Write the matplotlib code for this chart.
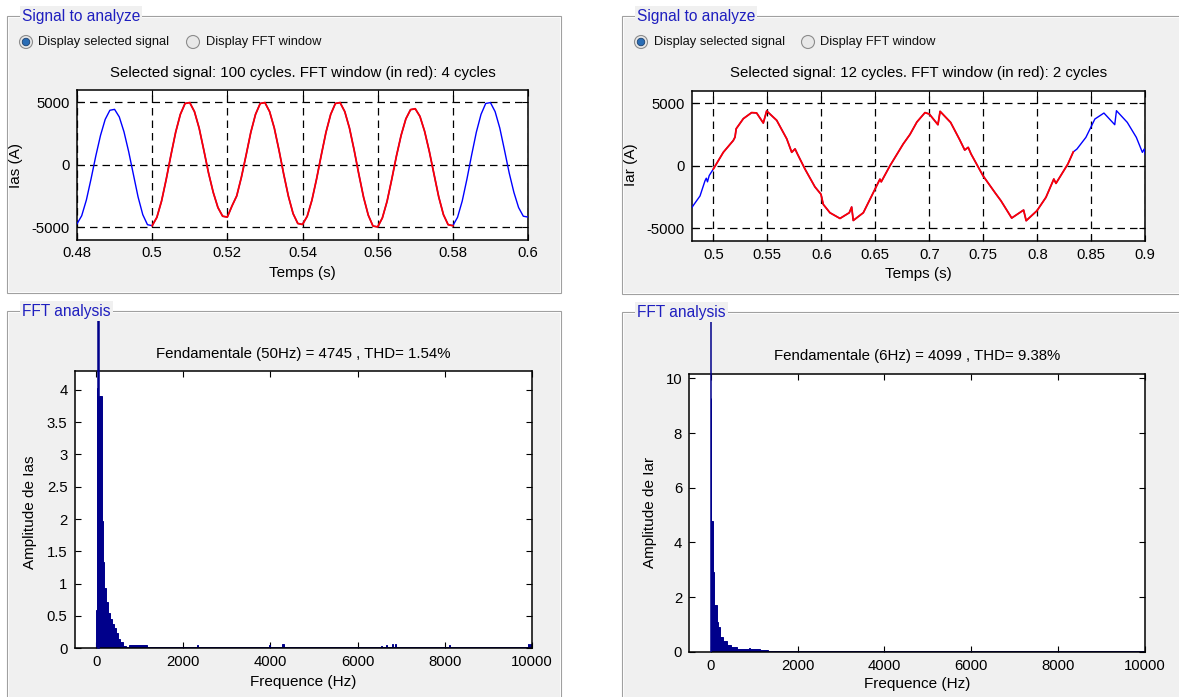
import matplotlib
matplotlib.use('Agg')
import matplotlib.pyplot as plt
import numpy as np
from matplotlib.patches import Rectangle, Ellipse
from matplotlib.transforms import Bbox, TransformedBbox

plt.rcParams['font.family'] = ['Liberation Sans', 'DejaVu Sans']

# ---- data ----
# Ias, 50 Hz, sampled every 1.25 ms from 0.48 s to 0.6 s
t_as = np.linspace(0.48, 0.6, 97)
i_as = [-4742, -4094, -2822, -1118,
        702, 2349, 3641, 4374, 4446, 3839, 2646, 1049,
        -772, -2584, -4005, -4811, -4891, -4222, -2911, -1153,
        780, 2610, 4045, 4920, 4990, 4265, 2940, 1165,
        -663, -2219, -3438, -4131, -4199, -3300, -2499, -990,
        780, 2610, 4045, 4920, 4990, 4265, 2940, 1165,
        -757, -2532, -3924, -4714, -4792, -4137, -2852, -1130,
        780, 2610, 4045, 4920, 4990, 4265, 2940, 1165,
        -780, -2610, -4045, -4920, -4990, -4265, -2940, -1165,
        710, 2375, 3681, 4423, 4495, 3881, 2675, 1060,
        -772, -2584, -4005, -4811, -4891, -4222, -2911, -1153,
        780, 2610, 4045, 4920, 4990, 4265, 2940, 1165,
        -663, -2219, -3438, -4131, -4199]
win_as = (0.50, 0.58)

# Iar, ~6 Hz with steps
t_ar = [0.480, 0.4877, 0.4923, 0.4935, 0.4946, 0.4962, 0.500, 0.5093, 0.5185, 0.5201,
        0.5212, 0.5278, 0.5355, 0.5401, 0.5463, 0.5494, 0.5587, 0.5680, 0.5726, 0.5757,
        0.5779, 0.5849, 0.5941, 0.5997, 0.6018, 0.6080, 0.6173, 0.6259, 0.6281, 0.6296,
        0.6389, 0.6466, 0.6543, 0.6555, 0.6636, 0.6759, 0.6821, 0.6885, 0.6960, 0.7000,
        0.7080, 0.7100, 0.7197, 0.7278, 0.7328, 0.7360, 0.7387, 0.7497, 0.7613, 0.7663,
        0.7763, 0.7873, 0.7897, 0.7997, 0.8080, 0.8153, 0.8173, 0.8283, 0.8333, 0.8367,
        0.8450, 0.8533, 0.8617, 0.8717, 0.8733, 0.8833, 0.8917, 0.8973, 0.8990, 0.9000]
i_ar = [-3360, -2420, -1210, -1000, -1290, -790, -270, 1075, 2016, 2285,
        2957, 3763, 4247, 4220, 3414, 4382, 3629, 2150, 1075, 1344,
        940, -270, -1694, -2285, -3091, -3763, -4220, -3763, -3306, -4382,
        -3763, -2420, -1075, -1290, 0, 1747, 2500, 3494, 4247, 4133,
        3280, 4347, 3467, 2133, 1253, 1467, 933, -800, -2213, -2800,
        -4187, -3547, -4400, -3600, -2533, -1067, -1413, 133, 1100, 1333,
        2267, 3733, 4213, 3280, 4400, 3467, 2267, 1067, 1333, 880]
win_ar = (0.50, 0.8334)

# FFT of Ias (in % of fundamental): spectrum blocks, fundamental, small lines
f_lo_as = [0, 12.5, 56, 125, 150, 175, 221, 267, 313, 359, 405, 451, 497, 543, 605, 673, 750, 1170]
f_hi_as = [12.5, 44, 125, 150, 175, 221, 267, 313, 359, 405, 451, 497, 543, 605, 673, 750, 1170, 10000]
amp_as = [0.59, 4.02, 3.9, 1.97, 1.34, 0.93, 0.72, 0.54, 0.46, 0.38, 0.31, 0.23, 0.15, 0.09, 0.04, 0.02, 0.05, 0.02]
fund_as = (50, 100)
spk_f_as = [2320, 3974, 4286, 6545, 6667, 6807, 6871, 8103, 9930, 9980]
spk_a_as = [0.05, 0.05, 0.06, 0.04, 0.05, 0.06, 0.06, 0.05, 0.06, 0.06]

# FFT of Iar
f_lo_ar = [0, 7.5, 10.5, 13.5, 45, 77, 135, 174, 210, 272, 364, 456, 594, 1146, 1330]
f_hi_ar = [4.5, 10.5, 13.5, 45, 77, 135, 174, 210, 272, 364, 456, 594, 1146, 1330, 10000]
amp_ar = [0.5, 9.3, 5.4, 4.8, 2.9, 1.7, 1.07, 0.89, 0.55, 0.4, 0.26, 0.16, 0.1, 0.07, 0.03]
fund_ar = (6, 100)
spk_f_ar = [900]
spk_a_ar = [0.15]

W, H = 1179, 697
fig = plt.figure(figsize=(W / 100, H / 100), dpi=100, facecolor='white')


def fx(x):
    return x / W


def fy(y):
    return 1 - y / H


def add_ax(l, t, r, b):
    return fig.add_axes([fx(l), fy(b), (r - l) / W, (b - t) / H])


def to_ax(box, x, y):
    l, t, r, b = box
    return (x - l) / (r - l), (b - y) / (b - t)


panel_bg = '#f0f0f0'
label_blue = '#1f1fbf'
navy = '#00008b'


def panel(l, t, r, b, title, tx):
    fig.add_artist(Rectangle((fx(l), fy(b)), (r - l) / W, (b - t) / H,
                             transform=fig.transFigure, facecolor=panel_bg,
                             edgecolor='#a0a0a0', linewidth=0.8, zorder=-2))
    fig.add_artist(Rectangle((fx(l + 1), fy(b - 1)), (r - l - 2) / W, (b - t - 2) / H,
                             transform=fig.transFigure, facecolor='none',
                             edgecolor='white', linewidth=0.6, zorder=-1))
    fig.text(fx(tx), fy(t), title, color=label_blue, fontsize=11.2, ha='left', va='center',
             bbox=dict(facecolor=panel_bg, edgecolor='none', pad=1.5), zorder=5)


def radio(cx, cy, text, on):
    r = 6.5
    fig.add_artist(Ellipse((fx(cx), fy(cy)), 2 * r / W, 2 * r / H, transform=fig.transFigure,
                           facecolor='#e8e8e8', edgecolor='#8c8c8c', linewidth=0.8, zorder=3))
    if on:
        fig.add_artist(Ellipse((fx(cx), fy(cy)), 7.5 / W, 7.5 / H, transform=fig.transFigure,
                               facecolor='#2a6db5', edgecolor='#1a3f6e', linewidth=0.6, zorder=4))
    fig.text(fx(cx + 12.5), fy(cy), text, fontsize=9.3, ha='left', va='center', color='#111111')


panel(7, 16, 561, 293, 'Signal to analyze', 22)
panel(622, 16, 1190, 294, 'Signal to analyze', 637)
panel(7, 311, 561, 710, 'FFT analysis', 22)
panel(622, 312, 1190, 710, 'FFT analysis', 637)

for x0 in (26, 641):
    radio(x0, 42, 'Display selected signal', True)
    radio(x0 + 167, 42, 'Display FFT window', False)


def style(ax):
    ax.tick_params(direction='in', top=True, right=True, length=4, width=0.8,
                   labelsize=10.7, pad=5, colors='black')
    for s in ax.spines.values():
        s.set_linewidth(1.1)


def signal_ax(box, t, i, win, xticks, xlabels):
    ax = add_ax(*box)
    t = np.asarray(t)
    i = np.asarray(i)
    ax.plot(t, i, color='#0000ff', linewidth=1.0, zorder=3)
    m = (t >= win[0] - 1e-9) & (t <= win[1])
    ax.plot(t[m], i[m], color='#ff0000', linewidth=1.3, zorder=4)
    ax.set_xlim(0.48, xticks[-1])
    ax.set_ylim(-6000, 6000)
    ax.set_xticks(xticks)
    ax.set_xticklabels(xlabels)
    ax.set_yticks([-5000, 0, 5000])
    ax.set_yticklabels(['-5000', '0', '5000'])
    ax.grid(True, color='black', linestyle=(0, (6, 4)), linewidth=0.9)
    ax.set_axisbelow(True)
    style(ax)
    return ax


def label_ax(ax, box, xl, xpos, yl, ypos, title, tpos):
    ax.set_xlabel(xl, fontsize=11, va='center')
    ax.xaxis.set_label_coords(*to_ax(box, *xpos))
    ax.set_ylabel(yl, fontsize=11, va='center')
    ax.yaxis.set_label_coords(*to_ax(box, *ypos))
    tx, ty = to_ax(box, *tpos)
    ax.set_title(title, fontsize=10.8, y=ty, pad=0, va='center')


box_tl = (77, 90, 528, 239.5)
ax1 = signal_ax(box_tl, t_as, i_as, win_as, [0.48, 0.5, 0.52, 0.54, 0.56, 0.58, 0.6],
                ['0.48', '0.5', '0.52', '0.54', '0.56', '0.58', '0.6'])
label_ax(ax1, box_tl, 'Temps (s)', (302.5, 273.3), 'Ias (A)', (16, 165),
         'Selected signal: 100 cycles. FFT window (in red): 4 cycles', (302, 72.7))

box_tr = (691.7, 90.7, 1145.3, 240.7)
ax2 = signal_ax(box_tr, t_ar, i_ar, win_ar, [0.5, 0.55, 0.6, 0.65, 0.7, 0.75, 0.8, 0.85, 0.9],
                ['0.5', '0.55', '0.6', '0.65', '0.7', '0.75', '0.8', '0.85', '0.9'])
label_ax(ax2, box_tr, 'Temps (s)', (918, 274.3), 'Iar (A)', (631, 165),
         'Selected signal: 12 cycles. FFT window (in red): 2 cycles', (917, 73))

clip_top = TransformedBbox(Bbox.from_extents(0, 0, 1, fy(321)), fig.transFigure)


def fft_ax(box, f_lo, f_hi, amp, fund, spk_f, spk_a, ytop, yticks, ylabels):
    ax = add_ax(*box)
    ax.bar(f_lo, amp, width=np.subtract(f_hi, f_lo), align='edge',
           color=navy, edgecolor=navy, linewidth=0.7, zorder=2)
    ax.bar(spk_f, spk_a, width=30, color=navy, edgecolor=navy, linewidth=0.7, zorder=2)
    fb = ax.bar([fund[0]], [fund[1]], width=8, color=navy, edgecolor=navy,
                linewidth=1.1, zorder=6)
    for p in fb:
        p.set_clip_path(None)
        p.set_clip_box(clip_top)
    ax.set_xlim(-500, 10000)
    ax.set_ylim(0, ytop)
    ax.set_xticks([0, 2000, 4000, 6000, 8000, 10000])
    ax.set_xticklabels(['0', '2000', '4000', '6000', '8000', '10000'])
    ax.set_yticks(yticks)
    ax.set_yticklabels(ylabels)
    style(ax)
    return ax


box_bl = (74.5, 371, 531.8, 648.3)
ax3 = fft_ax(box_bl, f_lo_as, f_hi_as, amp_as, fund_as, spk_f_as, spk_a_as, 4.29,
             [0, 0.5, 1, 1.5, 2, 2.5, 3, 3.5, 4],
             ['0', '0.5', '1', '1.5', '2', '2.5', '3', '3.5', '4'])
label_ax(ax3, box_bl, 'Frequence (Hz)', (303, 681.7), 'Amplitude de Ias', (30, 512),
         'Fendamentale (50Hz) = 4745 , THD= 1.54%', (302, 354))

box_br = (689, 374.3, 1145, 651.7)
ax4 = fft_ax(box_br, f_lo_ar, f_hi_ar, amp_ar, fund_ar, spk_f_ar, spk_a_ar, 10.15,
             [0, 2, 4, 6, 8, 10], ['0', '2', '4', '6', '8', '10'])
label_ax(ax4, box_br, 'Frequence (Hz)', (917, 684.3), 'Amplitude de Iar', (650, 512),
         'Fendamentale (6Hz) = 4099 , THD= 9.38%', (917, 356))

fig.savefig('out.png', dpi=100, facecolor='white')
